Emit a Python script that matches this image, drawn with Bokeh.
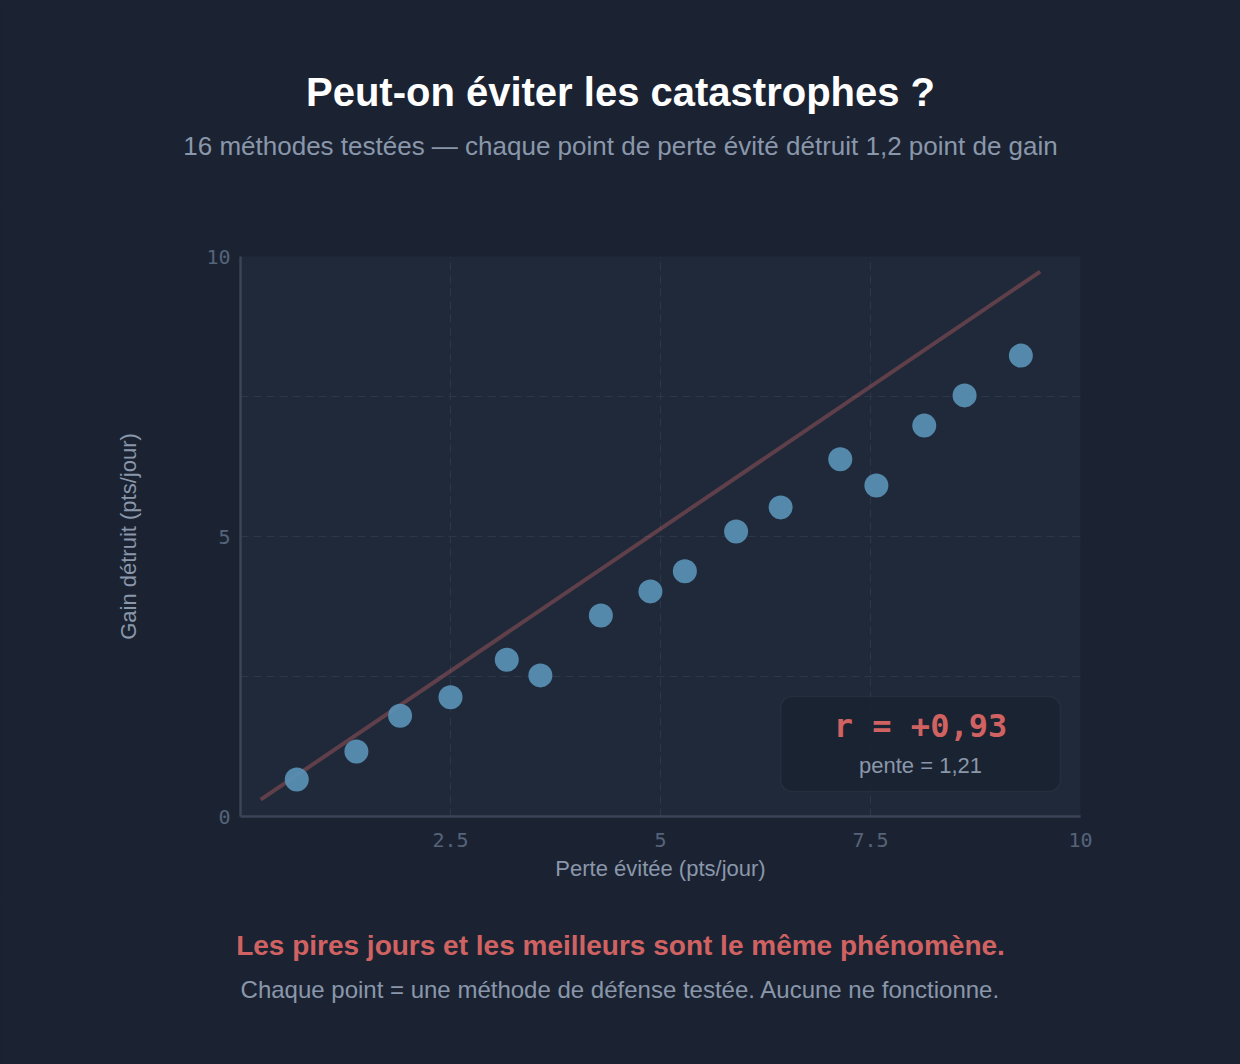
from bokeh.plotting import figure
from bokeh.layouts import column
from bokeh.models import FixedTicker, Label, BoxAnnotation, ColumnDataSource, Range1d
from bokeh.core.properties import value
from bokeh.embed import file_html
from bokeh.resources import INLINE

# ---- data ----
perte_evitee = [0.67, 1.38, 1.90, 2.50, 3.17, 3.57, 4.29, 4.88, 5.29, 5.90, 6.43, 7.14, 7.57, 8.14, 8.62, 9.29]
gain_detruit = [0.66, 1.16, 1.80, 2.13, 2.80, 2.52, 3.59, 4.02, 4.38, 5.09, 5.52, 6.38, 5.91, 6.98, 7.52, 8.23]
fit_x = [0.24, 9.52]
fit_y = [0.30, 9.73]
x_ticks = [2.5, 5, 7.5, 10]
x_tick_labels = ["2.5", "5", "7.5", "10"]
y_ticks = [0, 5, 10]
y_tick_labels = ["0", "5", "10"]
grid_ticks = [2.5, 5, 7.5]
title_text = "Peut-on éviter les catastrophes ?"
subtitle_text = "16 méthodes testées — chaque point de perte évité détruit 1,2 point de gain"
r_text = "r = +0,93"
slope_text = "pente = 1,21"
conclusion_text = "Les pires jours et les meilleurs sont le même phénomène."
note_text = "Chaque point = une méthode de défense testée. Aucune ne fonctionne."
x_label = "Perte évitée (pts/jour)"
y_label = "Gain détruit (pts/jour)"

PAGE_BG = "#1b2333"
FRAME_BG = "#1f2939"
SANS = "Liberation Sans"
MONO = "DejaVu Sans Mono"
W = 1240
HEAD_H = 200
MAIN_H = 700
FOOT_H = 164


def text_panel(height):
    f = figure(width=W, height=height, x_range=Range1d(0, W), y_range=Range1d(height, 0),
               output_backend="svg", toolbar_location=None,
               x_axis_location=None, y_axis_location=None,
               min_border=0, frame_align=False)
    f.background_fill_color = PAGE_BG
    f.border_fill_color = PAGE_BG
    f.outline_line_color = None
    f.xgrid.visible = False
    f.ygrid.visible = False
    return f


def put_text(f, text, cx, cy, size, color, style="normal", font=SANS):
    f.text(x=[cx], y=[cy], text=[text], text_font=value(font), text_font_size=value(size),
           text_font_style=style, text_color=color, text_align="center", text_baseline="middle")


# ---- header ----
head = text_panel(HEAD_H)
put_text(head, title_text, 620, 91, "40px", "#ffffff", style="bold")
put_text(head, subtitle_text, 620, 145, "26px", "#8a97aa")

# ---- main chart ----
p = figure(width=W, height=MAIN_H, x_range=(0, 10), y_range=(0, 10),
           output_backend="svg", toolbar_location=None,
           min_border_left=240, min_border_right=160,
           min_border_top=56, min_border_bottom=84, frame_align=False)
p.background_fill_color = FRAME_BG
p.border_fill_color = PAGE_BG
p.outline_line_color = None

for ax in (p.xaxis[0], p.yaxis[0]):
    ax.axis_line_color = "#3a4557"
    ax.axis_line_width = 2.5
    ax.major_tick_line_color = None
    ax.minor_tick_line_color = None
    ax.major_tick_out = 0
    ax.major_tick_in = 0
    ax.minor_tick_out = 0
    ax.minor_tick_in = 0
    ax.major_label_text_font = MONO
    ax.major_label_text_font_size = "20px"
    ax.major_label_text_color = "#56647a"
    ax.axis_label_text_font = SANS
    ax.axis_label_text_font_size = "22px"
    ax.axis_label_text_font_style = "normal"
    ax.axis_label_text_color = "#8a97aa"

p.xaxis.ticker = FixedTicker(ticks=x_ticks)
p.xaxis.major_label_overrides = {t: l for t, l in zip(x_ticks, x_tick_labels)}
p.yaxis.ticker = FixedTicker(ticks=y_ticks)
p.yaxis.major_label_overrides = {t: l for t, l in zip(y_ticks, y_tick_labels)}
p.xaxis.major_label_standoff = 16
p.yaxis.major_label_standoff = 10
p.xaxis.axis_label = x_label
p.yaxis.axis_label = y_label
p.xaxis.axis_label_standoff = 6
p.yaxis.axis_label_standoff = 62

p.xgrid.ticker = FixedTicker(ticks=grid_ticks)
p.ygrid.ticker = FixedTicker(ticks=grid_ticks)
for g in (p.xgrid[0], p.ygrid[0]):
    g.grid_line_color = "#2c3749"
    g.grid_line_width = 1
    g.grid_line_dash = "8 5"

# trend line
p.line(fit_x, fit_y, line_color="#c96464", line_alpha=0.38, line_width=4)

# points
src = ColumnDataSource(dict(x=perte_evitee, y=gain_detruit))
p.scatter("x", "y", source=src, size=24, fill_color="#5a93b9", fill_alpha=0.9, line_color=None)

# stats box
box = BoxAnnotation(left=6.43, right=9.76, bottom=0.446, top=2.143,
                    fill_color="#1a2230", fill_alpha=0.85,
                    line_color="#36445a", line_width=1.5, border_radius=12)
p.add_layout(box)

for txt, sy, size, color, font, style in [
    (r_text, 91, "32px", "#d06262", MONO, "bold"),
    (slope_text, 51, "22px", "#8a97aa", SANS, "normal"),
]:
    p.add_layout(Label(x=680, y=sy, x_units="screen", y_units="screen", text=txt,
                       text_font=font, text_font_size=size, text_color=color,
                       text_font_style=style, text_align="center", text_baseline="middle"))

# ---- footer ----
foot = text_panel(FOOT_H)
put_text(foot, conclusion_text, 620, 45, "28px", "#d06262", style="bold")
put_text(foot, note_text, 620, 89, "24px", "#8a97aa")

layout = column(head, p, foot, spacing=0)

html = file_html(layout, INLINE)
html = html.replace("<head>", "<head><style>html,body{background:%s;}</style>" % PAGE_BG, 1)
open("out.html", "w").write(html)
